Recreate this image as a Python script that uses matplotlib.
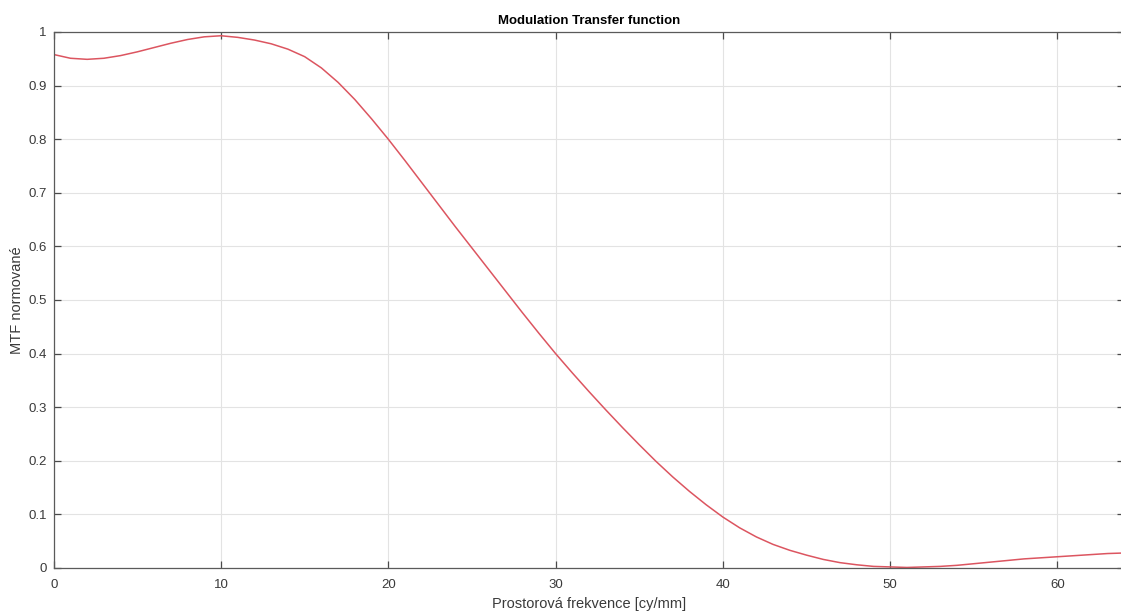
import matplotlib
matplotlib.use('Agg')
import matplotlib.pyplot as plt

# MTF values
freq = list(range(0, 65))
mtf = [0.958, 0.951, 0.949, 0.951, 0.956, 0.963, 0.971, 0.979, 0.986, 0.991,
       0.993, 0.990, 0.985, 0.978, 0.968, 0.954, 0.933, 0.906, 0.874, 0.838,
       0.800, 0.760, 0.719, 0.678, 0.637, 0.597, 0.557, 0.517, 0.477, 0.438,
       0.400, 0.364, 0.329, 0.295, 0.262, 0.230, 0.199, 0.170, 0.143, 0.118,
       0.095, 0.075, 0.058, 0.044, 0.033, 0.024, 0.016, 0.010, 0.006, 0.003,
       0.002, 0.001, 0.002, 0.003, 0.005, 0.008, 0.011, 0.014, 0.017, 0.019,
       0.021, 0.023, 0.025, 0.027, 0.028]

xticks = [0, 10, 20, 30, 40, 50, 60]
yticks = [0, 0.1, 0.2, 0.3, 0.4, 0.5, 0.6, 0.7, 0.8, 0.9, 1]
ytick_labels = ['0', '0.1', '0.2', '0.3', '0.4', '0.5', '0.6', '0.7', '0.8', '0.9', '1']

plt.rcParams['font.family'] = ['Liberation Sans', 'DejaVu Sans']

W, H = 1121, 614
fig = plt.figure(figsize=(W / 100, H / 100), dpi=100)
left, right, top, bottom = 53.7, 1124.4, 32, 568
ax = fig.add_axes([left / W, (H - bottom) / H, (right - left) / W, (bottom - top) / H])

ax.plot(freq, mtf, color='#dc5560', lw=1.1)

ax.set_xlim(0, 64)
ax.set_ylim(0, 1)
ax.set_xticks(xticks)
ax.set_yticks(yticks)
ax.set_yticklabels(ytick_labels)
ax.grid(True, color='#e3e3e3', lw=0.8)
ax.set_axisbelow(True)

for s in ax.spines.values():
    s.set_color('#5a5a5a')
    s.set_linewidth(0.9)
ax.tick_params(direction='in', length=5, width=0.9, color='#4a4a4a',
               labelsize=9.5, labelcolor='#3a3a3a', top=True, right=True)
ax.tick_params(axis='x', pad=8)
ax.tick_params(axis='y', pad=5)

ax.set_title('Modulation Transfer function', fontsize=9.5, fontweight='bold', pad=6)
ax.set_xlabel('Prostorová frekvence [cy/mm]', fontsize=10.5, color='#3a3a3a', labelpad=4.5)
ax.set_ylabel('MTF normované', fontsize=10.5, color='#3a3a3a', labelpad=3)

fig.savefig('out.png', dpi=100)
